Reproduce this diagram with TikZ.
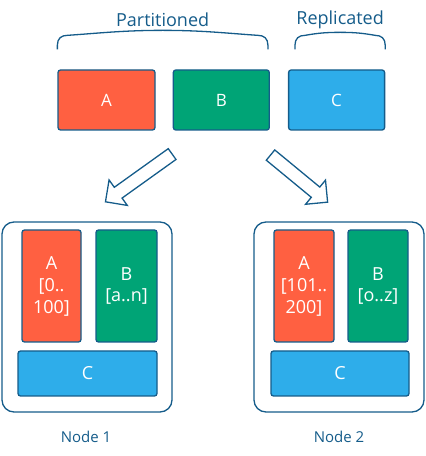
\documentclass[tikz,border=0pt]{standalone}
\usepackage{fontspec}
\setmainfont{Open Sans}
\usetikzlibrary{positioning,shapes.arrows,calc}
\definecolor{partred}{HTML}{FF6041}
\definecolor{partgreen}{HTML}{00A476}
\definecolor{replblue}{HTML}{2EADEA}
\definecolor{inkblue}{HTML}{155C8A}
\tikzset{
  shard/.style={draw=inkblue, line width=1.3pt, rounded corners=2.5pt, text=white,
    align=center, inner sep=0pt, font=\fontsize{18}{22}\selectfont},
  hostbox/.style={draw=inkblue, line width=1.3pt, rounded corners=12pt,
    minimum width=170pt, minimum height=190pt},
  caption/.style={text=inkblue, inner sep=0pt, font=\fontsize{15}{18}\selectfont},
  brace/.style={draw=inkblue, line width=1.3pt},
  fatarrow/.style={single arrow, draw=inkblue, fill=white, line width=1.3pt,
    inner sep=6pt, single arrow head extend=9pt},
}

\begin{document}
\begin{tikzpicture}[x=1pt,y=1pt]
  \useasboundingbox (0,0) rectangle (426,456);

  % top row
  \node[shard, fill=partred, minimum width=97pt, minimum height=60pt, font=\fontsize{17}{20}\selectfont] (A) at (106.5,356) {A};
  \node[shard, fill=partgreen, minimum width=96pt, minimum height=60pt, font=\fontsize{17}{20}\selectfont, right=17pt of A] (B) {B};
  \node[shard, fill=replblue, minimum width=96pt, minimum height=60pt, font=\fontsize{17}{20}\selectfont, right=18pt of B] (C) {C};

  % braces
  \coordinate (pl) at ($(A.north west)+(0,20)$);
  \coordinate (pr) at ($(B.north east)+(-2,20)$);
  \coordinate (rl) at ($(C.north west)+(7,20)$);
  \coordinate (rr) at ($(C.north east)+(0,20)$);
  \draw[brace] (pl) -- ++(0,4) .. controls +(0,7) and +(-6,0) .. ($(pl)+(10,14)$)
    .. controls +(30,2) and +(-40,0) .. ($(pl)!0.5!(pr)+(0,19)$)
    .. controls +(40,0) and +(-30,2) .. ($(pr)+(-10,14)$)
    .. controls +(6,0) and +(0,7) .. ($(pr)+(0,4)$) -- (pr);
  \draw[brace] (rl) -- ++(0,4) .. controls +(0,7) and +(-6,0) .. ($(rl)+(10,14)$)
    .. controls +(12,2) and +(-16,0) .. ($(rl)!0.5!(rr)+(0,17)$)
    .. controls +(16,0) and +(-12,2) .. ($(rr)+(-10,14)$)
    .. controls +(6,0) and +(0,7) .. ($(rr)+(0,4)$) -- (rr);
  \node[caption, font=\fontsize{18}{22}\selectfont] (part) at ($(pl)!0.5!(pr)+(0,30)$) {Partitioned};
  \node[caption, font=\fontsize{18}{22}\selectfont] (repl) at ($(rl)!0.5!(rr)+(0,30)$) {Replicated};

  % split arrows
  \node[fatarrow, minimum height=82pt, rotate=215.6] (splitL) at (141.5,280) {};
  \node[fatarrow, minimum height=74pt, rotate=-39.5] (splitR) at (296.5,279.5) {};

  % node 1
  \node[hostbox] (n1) at (87,139) {};
  \node[shard, fill=partred, minimum width=59pt, minimum height=112pt] (a1) at (51.5,170) {A\\{[}0..\\100{]}};
  \node[shard, fill=partgreen, minimum width=61pt, minimum height=112pt] (b1) at (126.5,170) {B\\{[}a..n{]}};
  \node[shard, fill=replblue, minimum width=139pt, minimum height=45pt] (c1) at (87.5,82.5) {C};
  \node[caption] (l1) at (86,19) {Node 1};

  % node 2
  \node[hostbox] (n2) at (339,139) {};
  \node[shard, fill=partred, minimum width=60pt, minimum height=112pt] (a2) at (304,170) {A\\{[}101..\\200{]}};
  \node[shard, fill=partgreen, minimum width=60pt, minimum height=112pt] (b2) at (378,170) {B\\{[}o..z{]}};
  \node[shard, fill=replblue, minimum width=138pt, minimum height=45pt] (c2) at (340,82.5) {C};
  \node[caption] (l2) at (339,19) {Node 2};
\end{tikzpicture}
\end{document}
